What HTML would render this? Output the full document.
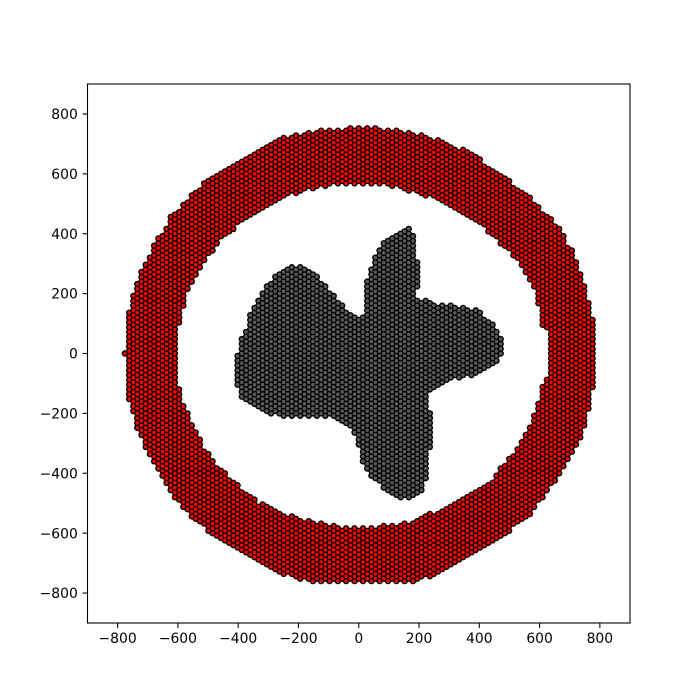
<!DOCTYPE html>
<html lang="en">
<head>
<meta charset="utf-8">
<title>Hexagonal scatter chart</title>
<style>
html,body{margin:0;padding:0;background:#fff;width:700px;height:700px;overflow:hidden}
svg{display:block}
text{font-family:"DejaVu Sans","Liberation Sans",sans-serif;font-size:13.9px;fill:#000}
</style>
</head>
<body>
<svg id="chart" xmlns="http://www.w3.org/2000/svg" width="700" height="700" viewBox="0 0 700 700">
  <rect x="0" y="0" width="700" height="700" fill="#fff"/>
  <g id="outlines"></g>
  <g id="points"></g>
  <g id="ticks"></g>
  <rect x="87.5" y="84" width="542.5" height="539" fill="none" stroke="#000" stroke-width="1.1"/>
</svg>
<script>
const xTickValues = [-800, -600, -400, -200, 0, 200, 400, 600, 800];
const yTickValues = [-800, -600, -400, -200, 0, 200, 400, 600, 800];
const xTickLabels = ["\u2212800", "\u2212600", "\u2212400", "\u2212200", "0", "200", "400", "600", "800"];
const yTickLabels = ["\u2212800", "\u2212600", "\u2212400", "\u2212200", "0", "200", "400", "600", "800"];
const xDomain = [-900, 900];
const yDomain = [-900, 900];
const columnPointStep = 16;

const redColumnX = [-776,-762,-748,-735,-721,-707,-693,-679,-665,-651,-638,-624,-610,-596,-582,-568,-554,-541,-527,-513,-499,-485,-471,-457,-444,-430,-416,-402,-388,-374,-360,-346,-333,-319,-305,-291,-277,-263,-249,-236,-222,-208,-194,-180,-166,-152,-139,-125,-111,-97,-83,-69,-55,-42,-28,-14,0,14,28,42,55,69,83,97,111,125,139,152,166,180,194,208,222,236,249,263,277,291,305,319,333,346,360,374,388,402,416,430,444,457,471,485,499,513,527,541,554,568,582,596,610,624,638,651,665,679,693,707,721,735,748,762,776];
const redColumnSpans = [
[0,0],[136,-152],[192,-192],[232,-248],[272,-272],[296,-312],[320,-336],[360,-360],[384,-384],[392,-408],[416,-432],[456,-456],[464,-480],
[472,104,-120,-488],[496,160,-176,-512],[504,216,-200,-520],[528,240,-240,-544],[536,264,-264,-552],[544,288,-288,-560],[568,312,-328,-568],
[576,336,-336,-592],[584,344,-360,-600],[592,368,-384,-608],[600,392,-392,-616],[608,400,-400,-624],[616,408,-424,-632],[624,416,-432,-640],
[632,440,-440,-648],[640,448,-464,-656],[648,456,-472,-664],[656,464,-480,-672],[664,472,-488,-680],[672,480,-512,-688],[680,488,-504,-696],
[688,496,-512,-704],[696,504,-520,-712],[704,512,-528,-720],[712,520,-536,-728],[720,528,-544,-736],[712,536,-552,-728],[720,544,-544,-736],
[728,536,-552,-744],[720,544,-560,-752],[728,552,-568,-744],[736,560,-560,-752],[728,552,-568,-760],[736,560,-576,-752],[744,568,-568,-760],
[736,560,-576,-752],[744,568,-584,-760],[736,576,-576,-752],[744,568,-584,-760],[736,576,-592,-752],[744,568,-584,-760],[752,576,-592,-752],
[744,568,-584,-760],[752,576,-592,-752],[744,568,-584,-760],[752,576,-592,-752],[744,568,-584,-760],[752,576,-592,-752],[744,568,-584,-760],
[736,576,-576,-752],[744,568,-584,-760],[736,560,-576,-752],[744,568,-584,-760],[736,560,-576,-752],[728,552,-568,-760],[736,544,-576,-752],
[728,552,-568,-760],[720,544,-560,-752],[728,536,-552,-744],[720,528,-544,-736],[712,536,-536,-744],[704,528,-544,-736],[712,520,-536,-728],
[704,512,-528,-720],[696,504,-520,-712],[688,496,-512,-704],[680,488,-504,-696],[672,480,-496,-688],[680,472,-488,-680],[672,464,-480,-672],
[664,456,-472,-664],[656,448,-464,-656],[648,440,-456,-648],[624,432,-448,-640],[616,408,-440,-632],[608,400,-432,-624],[600,392,-408,-616],
[592,368,-384,-608],[584,360,-376,-600],[576,352,-352,-592],[552,328,-344,-568],[544,320,-320,-560],[536,296,-296,-552],[528,272,-272,-544],
[520,248,-248,-536],[496,224,-208,-512],[488,168,-168,-488],[464,96,-112,-480],[456,88,-88,-456],
[448,-432],[424,-424],[416,-400],[392,-376],[352,-352],[344,-328],[304,-304],[264,-280],[224,-240],[168,-184],[112,-112]
];

const grayColumnX = [-402,-388,-374,-360,-346,-333,-319,-305,-291,-277,-263,-249,-236,-222,-208,-194,-180,-166,-152,-139,-125,-111,-97,-83,-69,-55,-42,-28,-14,0,14,28,42,55,69,83,97,111,125,139,152,166,180,194,208,222,236,249,263,277,291,305,319,333,346,360,374,388,402,416,430,444,457,471];
const grayColumnSpans = [
[-8,-104],[48,-144],[72,-152],[128,-160],[152,-168],[176,-176],[200,-184],[224,-192],[232,-200],[256,-192],[264,-200],[272,-208],[280,-200],
[288,-208],[280,-200],[288,-208],[280,-200],[272,-208],[264,-200],[256,-208],[232,-200],[224,-208],[200,-200],[192,-208],[168,-216],[160,-224],
[136,-232],[128,-240],[120,-264],[112,-304],[120,-360],[240,-384],[280,-408],[320,-416],[344,-424],[368,-448],[376,-456],[384,-464],[392,-472],
[400,-480],[408,-472],[416,-480],[392,-472],[304,224,176,-464],[168,-456],[176,-416],[168,-120,-200,-312],[160,-112],[152,-104],[160,-96],
[152,-88],[160,-80],[152,-72],[144,-80],[152,-72],[144,-64],[136,-72],[144,-64],[136,-56],[112,-48],[104,-40],[96,-32],[72,-24],[48,0]
];

const SVG_NS = "http://www.w3.org/2000/svg";
const plot = {left: 87.5, right: 630, top: 84, bottom: 623};

function xScale(v) {
  return plot.left + (v - xDomain[0]) / (xDomain[1] - xDomain[0]) * (plot.right - plot.left);
}
function yScale(v) {
  return plot.bottom - (v - yDomain[0]) / (yDomain[1] - yDomain[0]) * (plot.bottom - plot.top);
}

const outlinesGroup = document.getElementById("outlines");
const pointsGroup = document.getElementById("points");
const ticksGroup = document.getElementById("ticks");

function drawPoint(x, y, fill, name) {
  const cx = xScale(x).toFixed(2);
  const cy = yScale(y).toFixed(2);
  const edge = document.createElementNS(SVG_NS, "circle");
  edge.setAttribute("cx", cx);
  edge.setAttribute("cy", cy);
  edge.setAttribute("r", "3.2");
  edge.setAttribute("fill", "#000");
  
  
  outlinesGroup.appendChild(edge);
  const c = document.createElementNS(SVG_NS, "circle");
  c.setAttribute("cx", cx);
  c.setAttribute("cy", cy);
  c.setAttribute("r", "1.8");
  c.setAttribute("fill", fill);
  
  
  pointsGroup.appendChild(c);
}

function drawColumns(columnX, spans, fill, name) {
  columnX.forEach(function (x, col) {
    const column = spans[col];
    for (let s = 0; s + 1 < column.length; s += 2) {
      const count = Math.round((column[s] - column[s + 1]) / columnPointStep);
      for (let i = 0; i <= count; i++) {
        drawPoint(x, column[s] - i * columnPointStep, fill, name);
      }
    }
  });
}

drawColumns(redColumnX, redColumnSpans, "#ff0000", "ring-point");
drawColumns(grayColumnX, grayColumnSpans, "#5a5a5a", "center-point");

xTickValues.forEach(function (v, i) {
  const px = xScale(v);
  const t = document.createElementNS(SVG_NS, "line");
  t.setAttribute("x1", px);
  t.setAttribute("x2", px);
  t.setAttribute("y1", plot.bottom);
  t.setAttribute("y2", plot.bottom + 4.9);
  t.setAttribute("stroke", "#000");
  t.setAttribute("stroke-width", "1.1");
  
  
  ticksGroup.appendChild(t);
  const label = document.createElementNS(SVG_NS, "text");
  label.setAttribute("x", px);
  label.setAttribute("y", plot.bottom + 20);
  label.setAttribute("text-anchor", "middle");
  
  
  label.textContent = xTickLabels[i];
  ticksGroup.appendChild(label);
});

yTickValues.forEach(function (v, i) {
  const py = yScale(v);
  const t = document.createElementNS(SVG_NS, "line");
  t.setAttribute("x1", plot.left - 4.9);
  t.setAttribute("x2", plot.left);
  t.setAttribute("y1", py);
  t.setAttribute("y2", py);
  t.setAttribute("stroke", "#000");
  t.setAttribute("stroke-width", "1.1");
  
  
  ticksGroup.appendChild(t);
  const label = document.createElementNS(SVG_NS, "text");
  label.setAttribute("x", plot.left - 9.7);
  label.setAttribute("y", py + 5.1);
  label.setAttribute("text-anchor", "end");
  
  
  label.textContent = yTickLabels[i];
  ticksGroup.appendChild(label);
});
</script>
</body>
</html>
